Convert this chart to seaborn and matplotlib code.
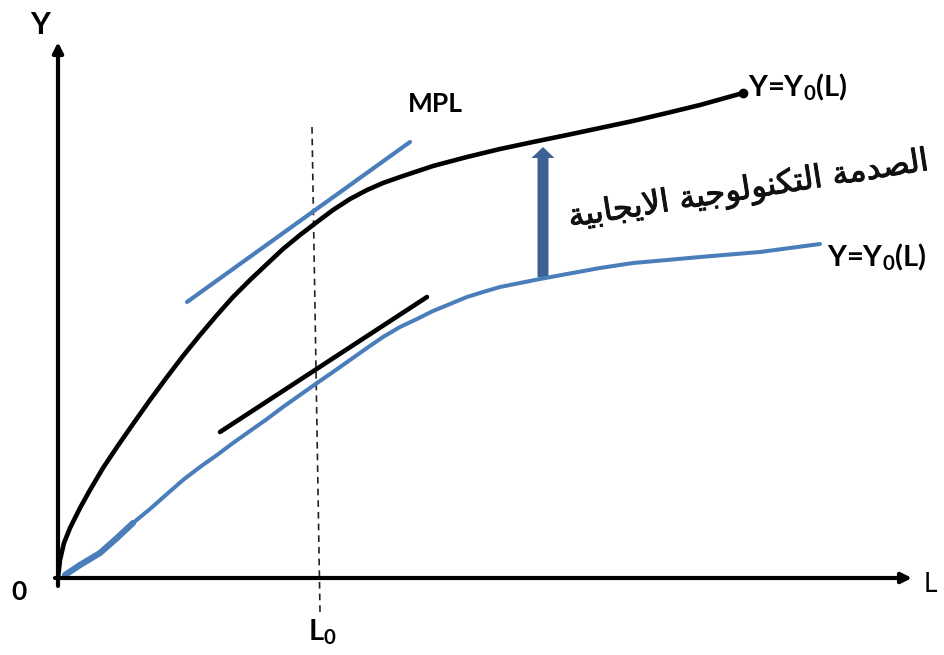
import matplotlib.pyplot as plt
import matplotlib.patheffects as pe
import seaborn as sns

# =========================================================================
# DATOS (unidades del dibujo, origen en la esquina de los ejes)
# =========================================================================
black_L = [0, 2, 6, 12, 22, 32, 45, 59, 75, 92, 109, 125, 142, 159, 175, 192,
           209, 225, 242, 259, 275, 292, 309, 325, 342, 375, 409, 442, 475, 509,
           542, 575, 609, 642, 685]
black_Y = [0, 18, 35, 50, 70, 88, 110, 131, 154, 178, 201, 222, 243, 263, 281,
           298, 314, 329, 343, 356, 368, 379, 388, 395, 401, 412, 421, 429, 436,
           443, 450, 457, 465, 473, 485]

blue_L = [7, 22, 42, 59, 75, 92, 109, 125, 142, 159, 175, 192, 209, 225, 242,
          259, 275, 292, 309, 325, 342, 359, 375, 392, 409, 425, 442, 462, 482,
          509, 542, 575, 609, 642, 702, 762]
blue_Y = [3, 13, 25, 40, 55, 69, 84, 98, 111, 123, 135, 147, 159, 171, 183,
          195, 206, 218, 230, 241, 251, 259, 267, 274, 281, 286, 291, 295, 299,
          304, 310, 315, 318, 321, 326, 334]

tangent_black_L = [162, 369]
tangent_black_Y = [146, 281]
tangent_blue_L = [129, 352]
tangent_blue_Y = [276, 436]

L0_line_L = [254, 262]
L0_line_Y = [451, -34]

shock_L = 485
shock_Y = [301, 431]

axis_L_end = 854
axis_Y_end = 536

label_curve = "Y=Y$_0$(L)"
label_L0 = "L$_0$"
label_shock = "الصدمة التكنولوجية الايجابية"

BLUE = "#4a7ebb"
ARROW_BLUE = "#3c6192"

# formas contextuales árabes (aislada, final, inicial, media)
FORMS = {
    'ا': (0xFE8D, 0xFE8E, None, None),
    'ب': (0xFE8F, 0xFE90, 0xFE91, 0xFE92),
    'ة': (0xFE93, 0xFE94, None, None),
    'ت': (0xFE95, 0xFE96, 0xFE97, 0xFE98),
    'ج': (0xFE9D, 0xFE9E, 0xFE9F, 0xFEA0),
    'د': (0xFEA9, 0xFEAA, None, None),
    'ص': (0xFEB9, 0xFEBA, 0xFEBB, 0xFEBC),
    'ك': (0xFED9, 0xFEDA, 0xFEDB, 0xFEDC),
    'ل': (0xFEDD, 0xFEDE, 0xFEDF, 0xFEE0),
    'م': (0xFEE1, 0xFEE2, 0xFEE3, 0xFEE4),
    'ن': (0xFEE5, 0xFEE6, 0xFEE7, 0xFEE8),
    'و': (0xFEED, 0xFEEE, None, None),
    'ي': (0xFEF1, 0xFEF2, 0xFEF3, 0xFEF4),
}


def shape_arabic(text):
    """Une las letras y devuelve el texto en orden visual (izq. a der.)."""
    out = []
    prev_joins = False
    i = 0
    while i < len(text):
        c = text[i]
        if c not in FORMS:
            out.append(c)
            prev_joins = False
            i += 1
            continue
        if c == 'ل' and i + 1 < len(text) and text[i + 1] == 'ا':
            out.append(chr(0xFEFC if prev_joins else 0xFEFB))
            prev_joins = False
            i += 2
            continue
        iso, fin, ini, med = FORMS[c]
        nxt = text[i + 1] if i + 1 < len(text) else ''
        next_joins = ini is not None and nxt in FORMS
        if prev_joins and next_joins:
            g = med
        elif prev_joins:
            g = fin
        elif next_joins:
            g = ini
        else:
            g = iso
        out.append(chr(g))
        prev_joins = next_joins
        i += 1
    return ''.join(reversed(out))


def main():
    sns.set_theme(style="white")
    plt.rcParams['font.family'] = ['Lato', 'DejaVu Sans']
    plt.rcParams['mathtext.default'] = 'regular'

    fig = plt.figure(figsize=(9.44, 6.55), dpi=100)
    ax = fig.add_axes([0, 0, 1, 1])
    ax.set_xlim(-58, 886)
    ax.set_ylim(-77, 578)
    ax.set_axis_off()

    # ejes con flechas
    ax.annotate("", xy=(0, axis_Y_end), xytext=(0, -8),
                arrowprops=dict(arrowstyle="-|>", lw=3, color="black",
                                mutation_scale=15, shrinkA=0, shrinkB=0))
    ax.annotate("", xy=(axis_L_end, 0), xytext=(-3, 0),
                arrowprops=dict(arrowstyle="-|>", lw=3, color="black",
                                mutation_scale=15, shrinkA=0, shrinkB=0))

    # línea discontinua en L0
    ax.plot(L0_line_L, L0_line_Y, color="#222222", lw=1.2, ls=(0, (4, 3)))

    # funciones de producción
    curve_kw = dict(sort=False, estimator=None, ax=ax,
                    solid_joinstyle="round", solid_capstyle="round")
    sns.lineplot(x=black_L, y=black_Y, color="black", lw=3.3, **curve_kw)
    sns.lineplot(x=blue_L, y=blue_Y, color=BLUE, lw=2.9, **curve_kw)
    sns.lineplot(x=blue_L[:5], y=blue_Y[:5], color=BLUE, lw=4.5, **curve_kw)
    ax.plot(black_L[-1], black_Y[-1], "o", color="black", ms=6)

    # tangentes (MPL)
    sns.lineplot(x=tangent_black_L, y=tangent_black_Y, color="black", lw=3.3,
                 **curve_kw)
    sns.lineplot(x=tangent_blue_L, y=tangent_blue_Y, color=BLUE, lw=3,
                 **curve_kw)

    # flecha del shock tecnológico
    ax.arrow(shock_L, shock_Y[0], 0, shock_Y[1] - shock_Y[0], width=11,
             head_width=23, head_length=11, length_includes_head=True,
             color=ARROW_BLUE, lw=0)

    # textos
    bold = dict(fontweight="bold", color="black")
    ax.text(-18, 553, "Y", fontsize=22, ha="center", va="center", **bold)
    ax.text(-39, -14, "0", fontsize=19, ha="center", va="center", **bold)
    ax.text(872, -7, "L", fontsize=19, ha="center", va="center", color="black")
    ax.text(264, -54, label_L0, fontsize=21, ha="center", va="center", **bold)
    ax.text(377, 474, "MPL", fontsize=19, ha="center", va="center", **bold)
    ax.text(690, 491, label_curve, fontsize=21, ha="left", va="center", **bold)
    ax.text(769, 321, label_curve, fontsize=21, ha="left", va="center", **bold)
    ax.text(691, 388, shape_arabic(label_shock), fontsize=23, ha="center",
            va="center", rotation=9, rotation_mode="anchor",
            family=["DejaVu Sans"], color="#111111",
            path_effects=[pe.withStroke(linewidth=0.7, foreground="#111111")])

    fig.savefig("out.png", dpi=100)


if __name__ == "__main__":
    main()
